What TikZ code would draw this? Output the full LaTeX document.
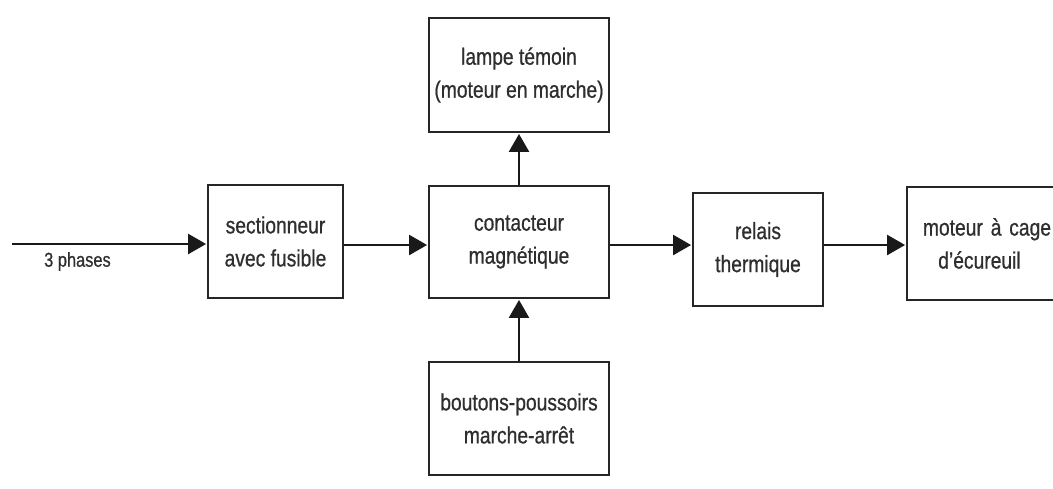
\documentclass[tikz,border=0pt]{standalone}
\usepackage{fontspec}
\setmainfont{Liberation Sans}
\newfontfamily\narrowfont[FakeStretch=0.82,FakeBold=0.7]{Liberation Sans}
\usetikzlibrary{arrows.meta}
\definecolor{txt}{HTML}{2e2e2e}
\tikzset{
  blk/.style={draw=black!85, line width=2.8pt, fill=white, align=center, inner sep=0pt,
    font=\narrowfont\fontsize{23.5}{33}\selectfont, text=txt},
  conn/.style={line width=2.3pt, draw=black!90, -{Triangle[length=18pt,width=20pt]}, shorten >=0.5pt}
}
\begin{document}
\begin{tikzpicture}[x=1pt,y=-1pt]
\useasboundingbox (0,0) rectangle (1053,488);
\node[blk, minimum width=135pt, minimum height=113pt] (sect) at (275.5,241.5) {sectionneur\\avec fusible};
\node[blk, minimum width=180pt, minimum height=112pt] (cont) at (519,242) {contacteur\\magnétique};
\node[blk, minimum width=180pt, minimum height=114pt] (lamp) at (519,75) {lampe témoin\\(moteur en marche)};
\node[blk, minimum width=180pt, minimum height=113pt] (bout) at (519,418.5) {boutons-poussoirs\\marche-arrêt};
\node[blk, minimum width=130pt, minimum height=113pt] (rel) at (758,249.5) {relais\\thermique};
\node[blk, minimum width=160pt, minimum height=113pt, text width=145pt] (mot) at (987,243.5) {moteur à cage\\d’écureuil\hspace*{15pt}};
\coordinate (in) at (12,244);
\node[font=\narrowfont\fontsize{20}{24}\selectfont, text=txt, anchor=north west, inner sep=0pt] (lab) at (44,252) {3 phases};
\draw[conn] (in) -- (in -| sect.west);
\draw[conn] (sect.east |- 0,245) -- (cont.west |- 0,245);
\draw[conn] (cont.east |- 0,245) -- (rel.west |- 0,245);
\draw[conn] (rel.east |- 0,245) -- (mot.west |- 0,245);
\draw[conn] (cont.north) -- (lamp.south);
\draw[conn] (bout.north) -- (cont.south);
\end{tikzpicture}
\end{document}
